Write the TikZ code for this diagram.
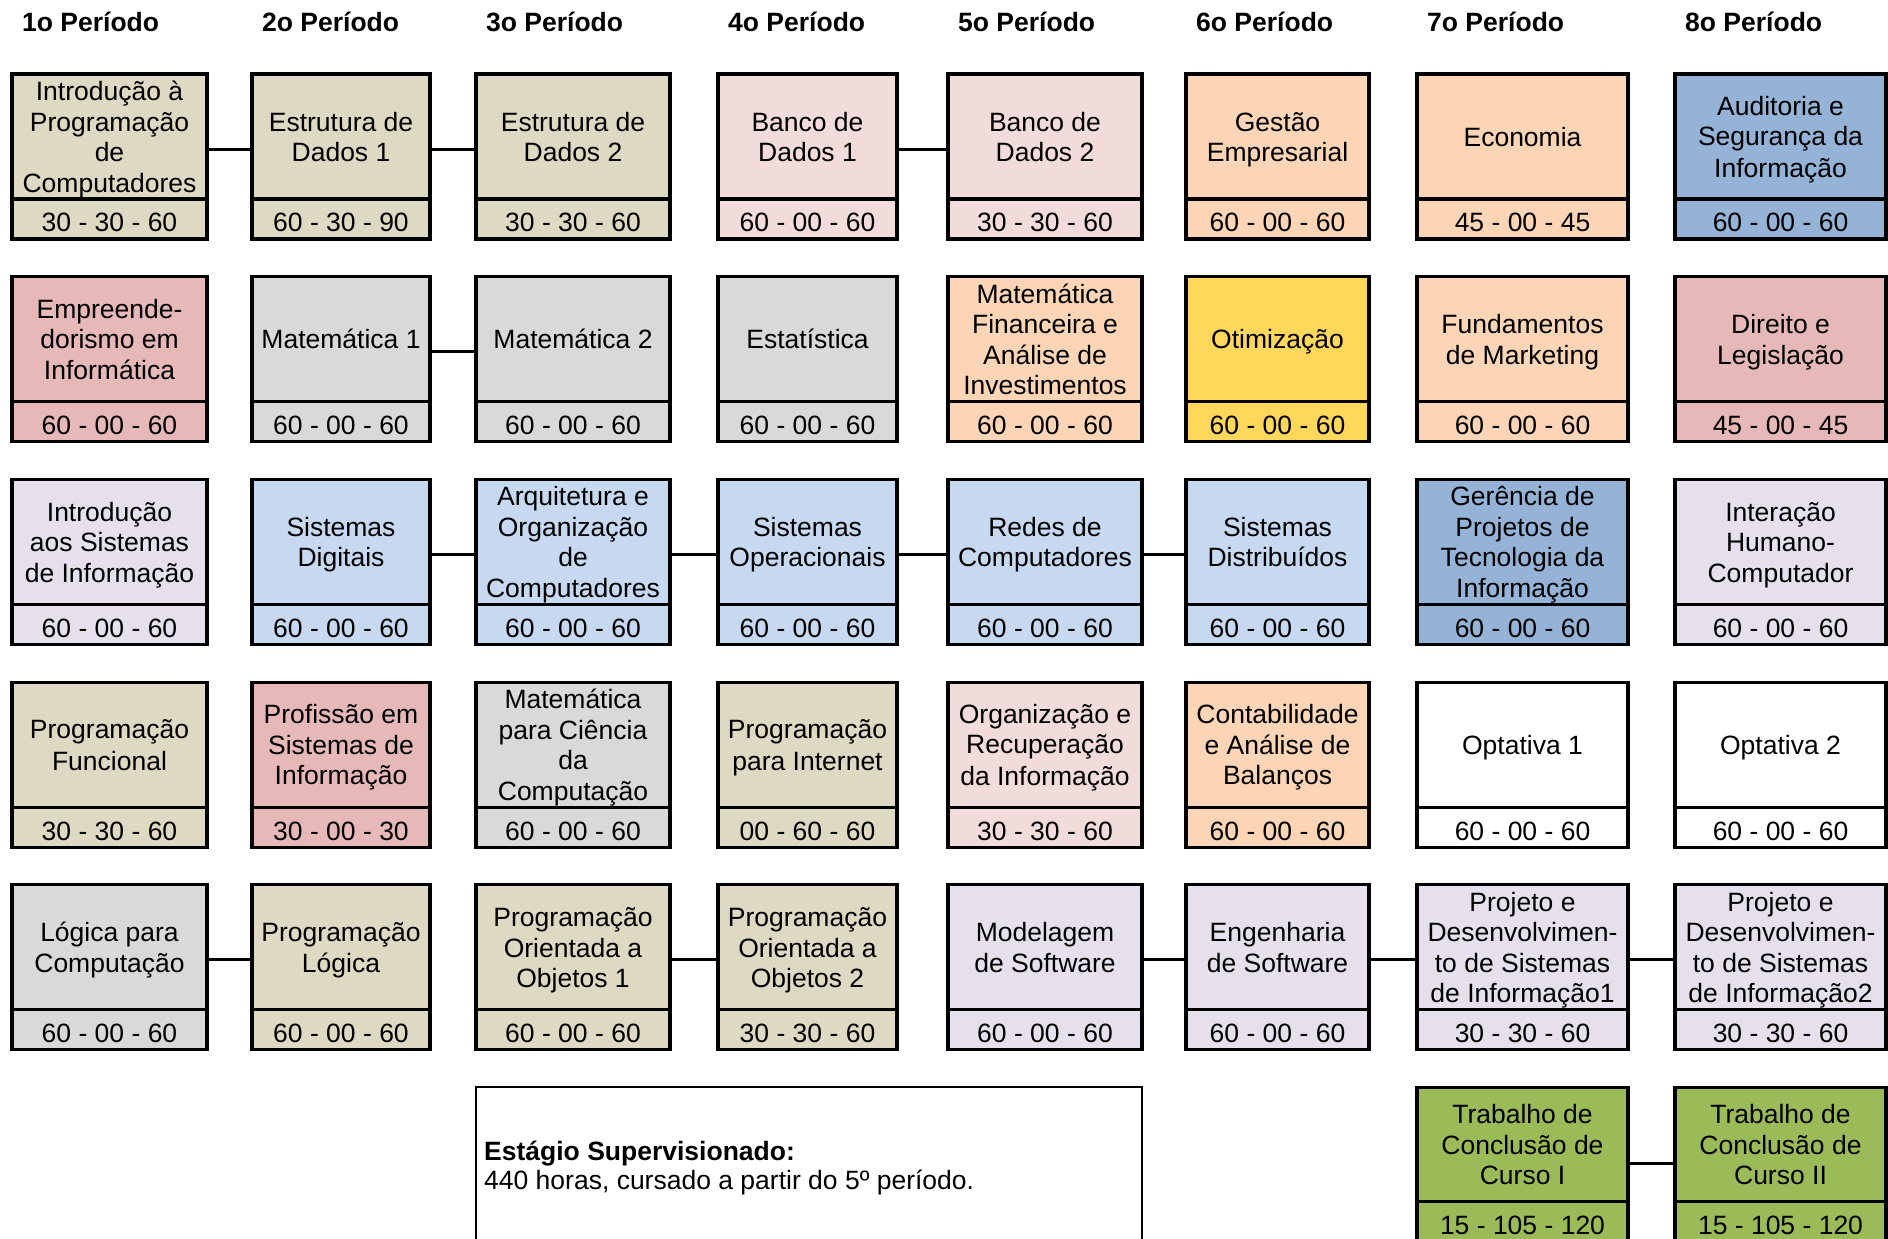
\documentclass[tikz,border=0pt]{standalone}
\usepackage{fontspec}
\setmainfont{Liberation Sans}
\definecolor{ctan}{HTML}{DDD9C3}
\definecolor{clpink}{HTML}{F2DCDB}
\definecolor{cpeach}{HTML}{FBD5B5}
\definecolor{cblue}{HTML}{95B3D7}
\definecolor{crose}{HTML}{E6B9B8}
\definecolor{cgray}{HTML}{D9D9D9}
\definecolor{cyellow}{HTML}{FFD75A}
\definecolor{clblue}{HTML}{C6D9F1}
\definecolor{clav}{HTML}{E5E0EC}
\definecolor{cgreen}{HTML}{9BBB59}
\newcommand\mystrut{\rule[-5.5pt]{0pt}{30.5pt}}
\tikzset{
  boxfont/.style={font=\fontsize{26.5}{30.5}\selectfont},
  upbox/.style={draw, line width=3.2pt, inner sep=0pt, outer sep=0pt, minimum height=125pt, align=center, boxfont},
  lowbox/.style={draw, line width=3.2pt, inner sep=0pt, outer sep=0pt, minimum height=40pt, boxfont,
    text height=25.8pt, text depth=0pt},
  conn/.style={line width=3pt},
  hdr/.style={inner sep=0pt, anchor=base west, font=\fontsize{26.5}{30.5}\selectfont\bfseries},
}
\newcommand\crs[7]{%
  \node[upbox, fill=#5, minimum width=#3, anchor=north west] (#1) at (#2,#4) {\mystrut#6\mystrut};
  \node[lowbox, fill=#5, minimum width=#3, anchor=north west] (#1h) at (#1.south west) {#7};
}
\newcommand\link[2]{\draw[conn] ([yshift=-12.5pt]#1.east) -- ([yshift=-12.5pt]#2.west);}
\def\cxA{12}\def\cwA{195}
\def\cxB{252}\def\cwB{178}
\def\cxC{476}\def\cwC{194}
\def\cxD{718}\def\cwD{179}
\def\cxE{948}\def\cwE{194}
\def\cxF{1186}\def\cwF{183}
\def\cxG{1417}\def\cwG{211}
\def\cxH{1675}\def\cwH{211}
\def\ryA{74}\def\ryB{276.7}\def\ryC{479.4}\def\ryD{682.1}\def\ryE{884.8}
\begin{document}
\begin{tikzpicture}[x=1pt,y=-1pt]
\useasboundingbox (0,0) rectangle (1888,1239);
\clip (0,0) rectangle (1888,1239);
\fill[white] (0,0) rectangle (1888,1239);
% headers
\node[hdr] (h1) at (22,32) {1o Período};
\node[hdr] (h2) at (262,32) {2o Período};
\node[hdr] (h3) at (486,32) {3o Período};
\node[hdr] (h4) at (728,32) {4o Período};
\node[hdr] (h5) at (958,32) {5o Período};
\node[hdr] (h6) at (1196,32) {6o Período};
\node[hdr] (h7) at (1427,32) {7o Período};
\node[hdr] (h8) at (1685,32) {8o Período};
% row 1
\crs{a1}{\cxA}{\cwA}{\ryA}{ctan}{Introdução à\\Programação\\de\\Computadores}{30 - 30 - 60}
\crs{a2}{\cxB}{\cwB}{\ryA}{ctan}{Estrutura de\\Dados 1}{60 - 30 - 90}
\crs{a3}{\cxC}{\cwC}{\ryA}{ctan}{Estrutura de\\Dados 2}{30 - 30 - 60}
\crs{a4}{\cxD}{\cwD}{\ryA}{clpink}{Banco de\\Dados 1}{60 - 00 - 60}
\crs{a5}{\cxE}{\cwE}{\ryA}{clpink}{Banco de\\Dados 2}{30 - 30 - 60}
\crs{a6}{\cxF}{\cwF}{\ryA}{cpeach}{Gestão\\Empresarial}{60 - 00 - 60}
\crs{a7}{\cxG}{\cwG}{\ryA}{cpeach}{Economia}{45 - 00 - 45}
\crs{a8}{\cxH}{\cwH}{\ryA}{cblue}{Auditoria e\\Segurança da\\Informação}{60 - 00 - 60}
% row 2
\crs{b1}{\cxA}{\cwA}{\ryB}{crose}{Empreende-\\dorismo em\\Informática}{60 - 00 - 60}
\crs{b2}{\cxB}{\cwB}{\ryB}{cgray}{Matemática 1}{60 - 00 - 60}
\crs{b3}{\cxC}{\cwC}{\ryB}{cgray}{Matemática 2}{60 - 00 - 60}
\crs{b4}{\cxD}{\cwD}{\ryB}{cgray}{Estatística}{60 - 00 - 60}
\crs{b5}{\cxE}{\cwE}{\ryB}{cpeach}{Matemática\\Financeira e\\Análise de\\Investimentos}{60 - 00 - 60}
\crs{b6}{\cxF}{\cwF}{\ryB}{cyellow}{Otimização}{60 - 00 - 60}
\crs{b7}{\cxG}{\cwG}{\ryB}{cpeach}{Fundamentos\\de Marketing}{60 - 00 - 60}
\crs{b8}{\cxH}{\cwH}{\ryB}{crose}{Direito e\\Legislação}{45 - 00 - 45}
% row 3
\crs{c1}{\cxA}{\cwA}{\ryC}{clav}{Introdução\\aos Sistemas\\de Informação}{60 - 00 - 60}
\crs{c2}{\cxB}{\cwB}{\ryC}{clblue}{Sistemas\\Digitais}{60 - 00 - 60}
\crs{c3}{\cxC}{\cwC}{\ryC}{clblue}{Arquitetura e\\Organização\\de\\Computadores}{60 - 00 - 60}
\crs{c4}{\cxD}{\cwD}{\ryC}{clblue}{Sistemas\\Operacionais}{60 - 00 - 60}
\crs{c5}{\cxE}{\cwE}{\ryC}{clblue}{Redes de\\Computadores}{60 - 00 - 60}
\crs{c6}{\cxF}{\cwF}{\ryC}{clblue}{Sistemas\\Distribuídos}{60 - 00 - 60}
\crs{c7}{\cxG}{\cwG}{\ryC}{cblue}{Gerência de\\Projetos de\\Tecnologia da\\Informação}{60 - 00 - 60}
\crs{c8}{\cxH}{\cwH}{\ryC}{clav}{Interação\\Humano-\\Computador}{60 - 00 - 60}
% row 4
\crs{d1}{\cxA}{\cwA}{\ryD}{ctan}{Programação\\Funcional}{30 - 30 - 60}
\crs{d2}{\cxB}{\cwB}{\ryD}{crose}{Profissão em\\Sistemas de\\Informação}{30 - 00 - 30}
\crs{d3}{\cxC}{\cwC}{\ryD}{cgray}{Matemática\\para Ciência\\da\\Computação}{60 - 00 - 60}
\crs{d4}{\cxD}{\cwD}{\ryD}{ctan}{Programação\\para Internet}{00 - 60 - 60}
\crs{d5}{\cxE}{\cwE}{\ryD}{clpink}{Organização e\\Recuperação\\da Informação}{30 - 30 - 60}
\crs{d6}{\cxF}{\cwF}{\ryD}{cpeach}{Contabilidade\\e Análise de\\Balanços}{60 - 00 - 60}
\crs{d7}{\cxG}{\cwG}{\ryD}{white}{Optativa 1}{60 - 00 - 60}
\crs{d8}{\cxH}{\cwH}{\ryD}{white}{Optativa 2}{60 - 00 - 60}
% row 5
\crs{e1}{\cxA}{\cwA}{\ryE}{cgray}{Lógica para\\Computação}{60 - 00 - 60}
\crs{e2}{\cxB}{\cwB}{\ryE}{ctan}{Programação\\Lógica}{60 - 00 - 60}
\crs{e3}{\cxC}{\cwC}{\ryE}{ctan}{Programação\\Orientada a\\Objetos 1}{60 - 00 - 60}
\crs{e4}{\cxD}{\cwD}{\ryE}{ctan}{Programação\\Orientada a\\Objetos 2}{30 - 30 - 60}
\crs{e5}{\cxE}{\cwE}{\ryE}{clav}{Modelagem\\de Software}{60 - 00 - 60}
\crs{e6}{\cxF}{\cwF}{\ryE}{clav}{Engenharia\\de Software}{60 - 00 - 60}
\crs{e7}{\cxG}{\cwG}{\ryE}{clav}{Projeto e\\Desenvolvimen-\\to de Sistemas\\de Informação1}{30 - 30 - 60}
\crs{e8}{\cxH}{\cwH}{\ryE}{clav}{Projeto e\\Desenvolvimen-\\to de Sistemas\\de Informação2}{30 - 30 - 60}
% row 6 (TCC)
\node[upbox, fill=cgreen, minimum width=\cwG, minimum height=114pt, anchor=north west] (f7) at (\cxG,1087.5) {\mystrut Trabalho de\\Conclusão de\\Curso I\mystrut};
\node[lowbox, fill=cgreen, minimum width=\cwG, anchor=north west] (f7h) at (f7.south west) {15 - 105 - 120};
\node[upbox, fill=cgreen, minimum width=\cwH, minimum height=114pt, anchor=north west] (f8) at (\cxH,1087.5) {\mystrut Trabalho de\\Conclusão de\\Curso II\mystrut};
\node[lowbox, fill=cgreen, minimum width=\cwH, anchor=north west] (f8h) at (f8.south west) {15 - 105 - 120};
% Estagio
\node[draw, line width=2pt, inner sep=0pt, outer sep=0pt, minimum width=666pt, minimum height=200pt, anchor=north west] (est) at (476,1087) {};
\node[inner sep=0pt, anchor=base west, font=\fontsize{26.5}{30.5}\selectfont\bfseries] (estA) at (484,1160.5) {Estágio Supervisionado:};
\node[inner sep=0pt, anchor=base west, boxfont] (estB) at (484,1189.5) {440 horas, cursado a partir do 5º período.};
% connectors
\link{a1}{a2}\link{a2}{a3}\link{a4}{a5}
\link{b2}{b3}
\link{c2}{c3}\link{c3}{c4}\link{c4}{c5}\link{c5}{c6}
\link{e1}{e2}\link{e3}{e4}\link{e5}{e6}\link{e6}{e7}\link{e7}{e8}
\draw[conn] ([yshift=-18.5pt]f7.east) -- ([yshift=-18.5pt]f8.west);
\end{tikzpicture}
\end{document}
